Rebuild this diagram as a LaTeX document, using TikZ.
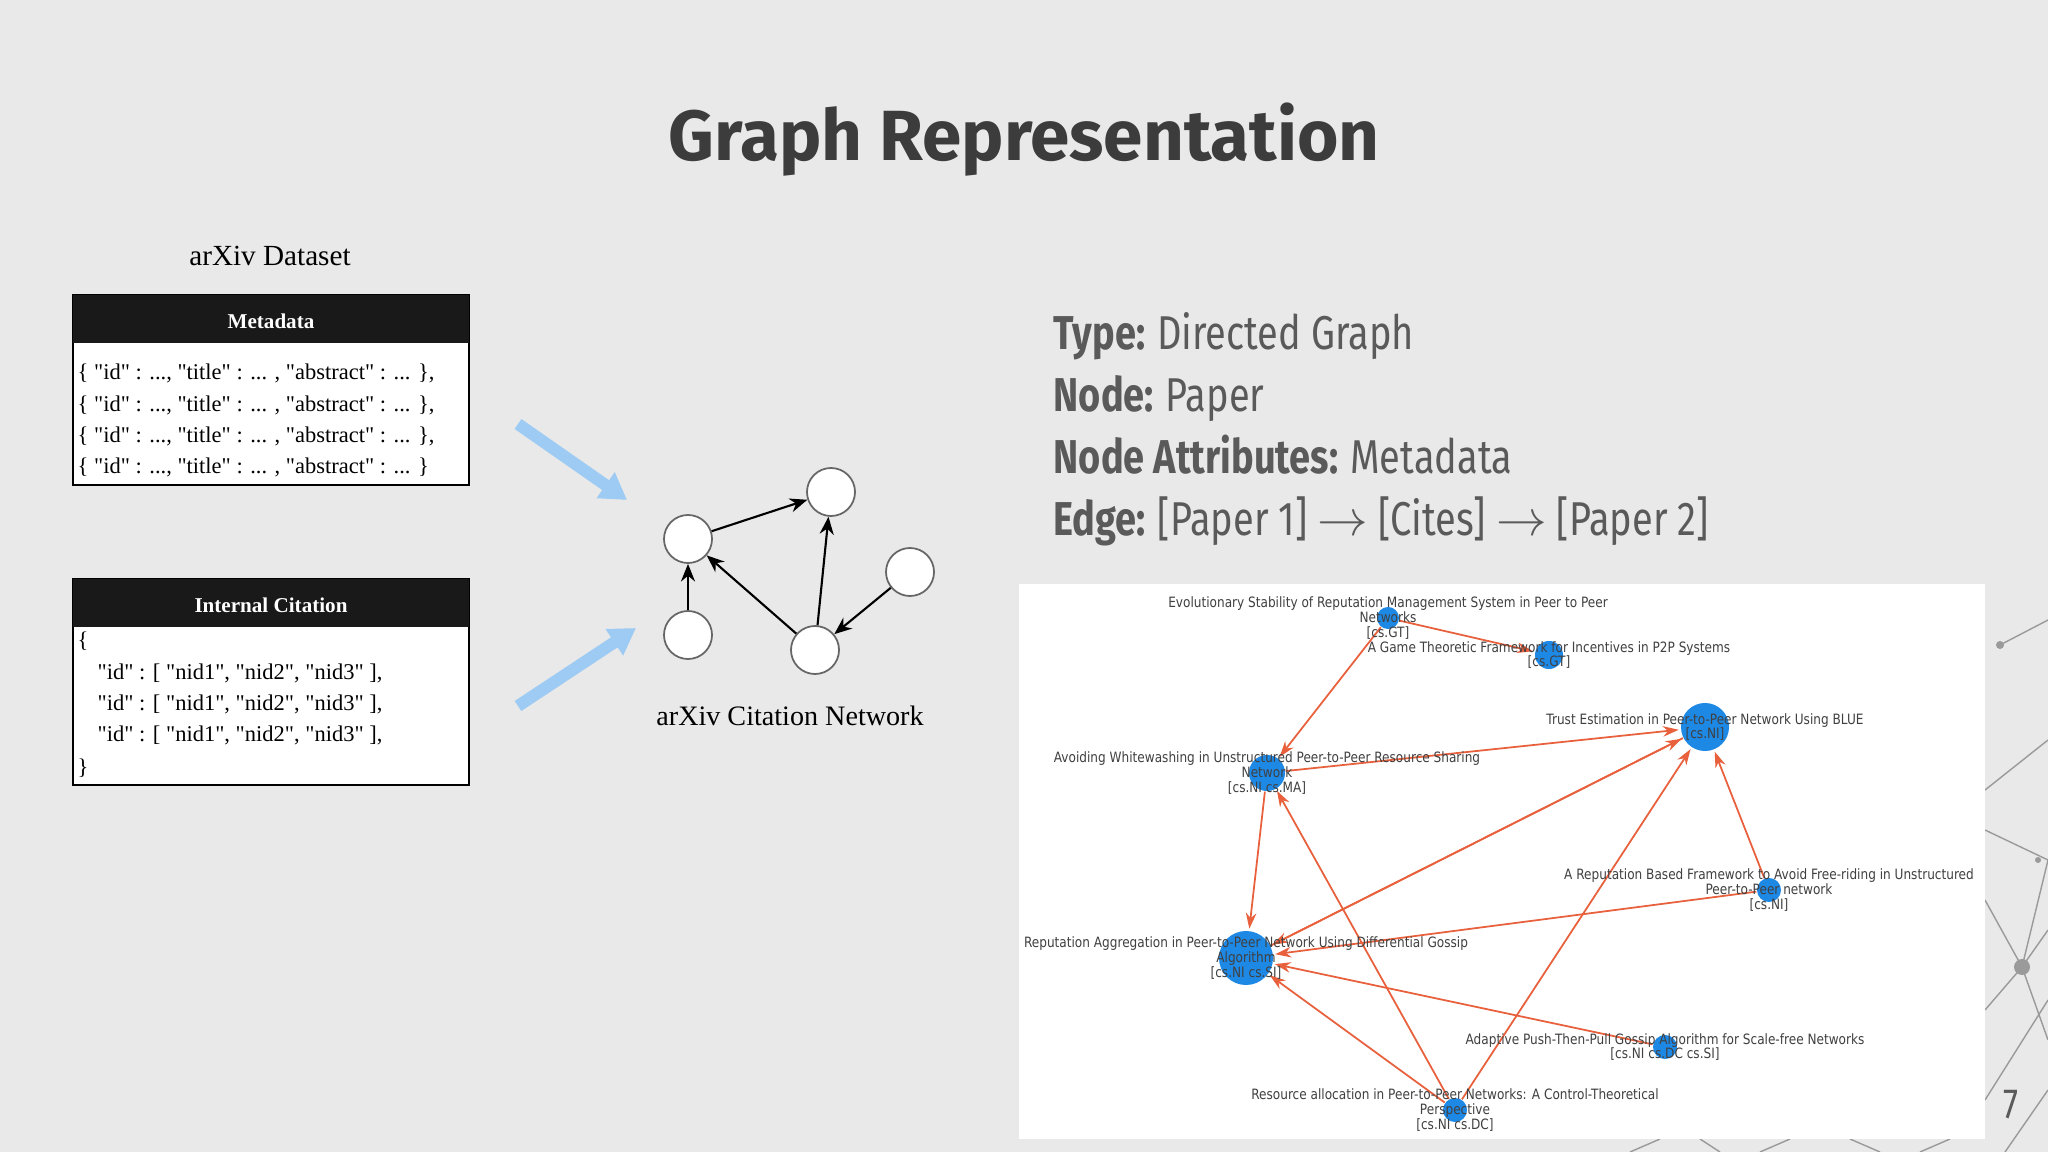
\documentclass[tikz,border=0pt]{standalone}
\usepackage{fontspec}
\setmainfont{Liberation Serif}
\newfontfamily\titlef{Fira Sans}
\newfontfamily\cond[FakeStretch=0.8]{Fira Sans}
\newfontfamily\labf[FakeStretch=0.85]{DejaVu Sans}
\usetikzlibrary{arrows.meta}
\definecolor{bg}{HTML}{E9E9E9}
\definecolor{ttl}{HTML}{3C3C3C}
\definecolor{txt}{HTML}{5A5A5A}
\definecolor{eg}{HTML}{E8603C}
\definecolor{nb}{HTML}{1E88E5}
\definecolor{lb}{HTML}{9DCBF3}
\definecolor{mesh}{HTML}{9A9A9A}
\newcommand{\q}{\textquotedbl}
\tikzset{
  row/.style={anchor=west,font=\fontsize{6.4}{7.5}\selectfont,inner sep=0},
  hdr/.style={font=\bfseries\fontsize{6}{7}\selectfont,text=white},
  cn/.style={circle,draw=black!60,fill=white,minimum size=0.48cm,inner sep=0,line width=0.5pt},
  ce/.style={-{Stealth[length=5pt,width=4pt]},line width=0.6pt},
  pn/.style={circle,fill=nb,inner sep=0},
  pl/.style={align=center,font=\labf\fontsize{4.05}{4.15}\selectfont,text=black!75},
  pe/.style={eg,line width=0.5pt,-{Stealth[length=4.5pt,width=3pt]},shorten >=0.5pt},
  info/.style={anchor=base west,font=\cond\fontsize{13.5}{16}\selectfont,text=txt,inner sep=0},
  blarrow/.style={lb,line width=0.12cm,-{Triangle[length=0.26cm,width=0.3cm]}},
  ml/.style={mesh,line width=0.4pt}
}
\begin{document}
\begin{tikzpicture}[x=0.01cm,y=-0.01cm]
\useasboundingbox (0,0) rectangle (2048,1152);
\fill[bg] (0,0) rectangle (2048,1152);
% mesh
\draw[ml] (2000,645) -- (2048,620);
\fill[mesh] (2000,645) circle (4);
\draw[ml] (1985,790) -- (2048,740) (1985,830) -- (2048,860) (2048,860) -- (2022,967) -- (1985,900) (2022,967) -- (2048,930) (2022,967) -- (1985,1010) (2022,967) -- (2048,1040) (1985,1100) -- (2048,1000) (2005,1152) -- (2048,1090);
\fill[mesh] (2022,967) circle (8);
\fill[mesh] (2038,860) circle (3);
\draw[ml] (1630,1152) -- (1660,1139) (1700,1139) -- (1720,1152) (1760,1152) -- (1790,1139) (1850,1139) -- (1880,1152) (1920,1152) -- (1950,1139);
% title
\node[font=\titlef\bfseries\fontsize{20.2}{24}\selectfont,text=ttl] (title) at (1024,140) {Graph Representation};
% dataset
\node[font=\fontsize{8.3}{10}\selectfont] (ds) at (270,256) {arXiv Dataset};
\draw[fill=white,line width=0.6pt] (73,295) rectangle (469,485);
\fill[black!90] (73,295) rectangle (469,343);
\node[hdr] (mh) at (271,321) {Metadata};
\foreach \y/\e in {373/{,},405/{,},436/{,},467/{}}
  \node[row] at (77,\y) {\{ \q id\q{} : ..., \q title\q{} : ... , \q abstract\q{} : ... \}\e};
\draw[fill=white,line width=0.6pt] (73,579) rectangle (469,785);
\fill[black!90] (73,579) rectangle (469,627);
\node[hdr] (ih) at (271,605) {Internal Citation};
\node[row] at (77,641) {\{};
\foreach \y in {673,704,735}
  \node[row] at (97,\y) {\q id\q{} : [ \q nid1\q, \q nid2\q, \q nid3\q{} ],};
\node[row] at (77,768) {\}};
% blue arrows
\coordinate (a1s) at (518,424); \coordinate (a1e) at (627,500);
\coordinate (a2s) at (518,706); \coordinate (a2e) at (636,628);
\draw[blarrow] (a1s) -- (a1e);
\draw[blarrow] (a2s) -- (a2e);
% small graph
\node[cn] (A) at (688,539) {};
\node[cn] (B) at (831,492) {};
\node[cn] (C) at (910,572) {};
\node[cn] (D) at (688,635) {};
\node[cn] (E) at (815,650) {};
\draw[ce] (A) -- (B);
\draw[ce] (D) -- (A);
\draw[ce] (E) -- (A);
\draw[ce] (E) -- (B);
\draw[ce] (C) -- (E);
\node[font=\fontsize{8}{9}\selectfont] (cn) at (790,716) {arXiv Citation Network};
% info
\node[info] (i1) at (1053,350) {\bfseries Type: \mdseries Directed Graph};
\node[info] (i2) at (1053,412) {\bfseries Node: \mdseries Paper};
\node[info] (i3) at (1053,474) {\bfseries Node Attributes: \mdseries Metadata};
\node[info] (i4) at (1053,536) {\bfseries Edge: \mdseries [Paper 1] {\normalfont\fontsize{13.5}{16}\selectfont$\rightarrow$} [Cites] {\normalfont\fontsize{13.5}{16}\selectfont$\rightarrow$} [Paper 2]};
% panel
\fill[white] (1019,584) rectangle (1985,1139);
\node[pn,minimum size=0.22cm] (evo) at (1388,618) {};
\node[pn,minimum size=0.28cm] (game) at (1549,655) {};
\node[pn,minimum size=0.48cm] (trust) at (1705,727) {};
\node[pn,minimum size=0.36cm] (avoid) at (1267,773) {};
\node[pn,minimum size=0.24cm] (repb) at (1769,890) {};
\node[pn,minimum size=0.54cm] (repa) at (1246,958) {};
\node[pn,minimum size=0.24cm] (adap) at (1665,1047) {};
\node[pn,minimum size=0.24cm] (res) at (1455,1110) {};
\draw[pe] (evo) -- (game);
\draw[pe] (evo) -- (avoid);
\draw[pe] (avoid) -- (trust);
\draw[pe] (avoid) -- (repa);
\draw[pe] (repa) -- (trust);
\draw[pe] (trust) -- (repa);
\draw[pe] (repb) -- (trust);
\draw[pe] (repb) -- (repa);
\draw[pe] (adap) -- (repa);
\draw[pe] (res) -- (repa);
\draw[pe] (res) -- (avoid);
\draw[pe] (res) -- (trust);
\node[pl] at (1388,618) {Evolutionary Stability of Reputation Management System in Peer to Peer\\Networks\\{}[cs.GT]};
\node[pl] at (1549,655) {A Game Theoretic Framework for Incentives in P2P Systems\\{}[cs.GT]};
\node[pl] at (1705,727) {Trust Estimation in Peer-to-Peer Network Using BLUE\\{}[cs.NI]};
\node[pl] at (1267,773) {Avoiding Whitewashing in Unstructured Peer-to-Peer Resource Sharing\\Network\\{}[cs.NI cs.MA]};
\node[pl] at (1769,890) {A Reputation Based Framework to Avoid Free-riding in Unstructured\\Peer-to-Peer network\\{}[cs.NI]};
\node[pl] at (1246,958) {Reputation Aggregation in Peer-to-Peer Network Using Differential Gossip\\Algorithm\\{}[cs.NI cs.SI]};
\node[pl] at (1665,1047) {Adaptive Push-Then-Pull Gossip Algorithm for Scale-free Networks\\{}[cs.NI cs.DC cs.SI]};
\node[pl] at (1455,1110) {Resource allocation in Peer-to-Peer Networks: A Control-Theoretical\\Perspective\\{}[cs.NI cs.DC]};
\node[font=\cond\fontsize{12}{14}\selectfont,text=txt] (pg) at (2011,1105) {7};
\end{tikzpicture}
\end{document}
